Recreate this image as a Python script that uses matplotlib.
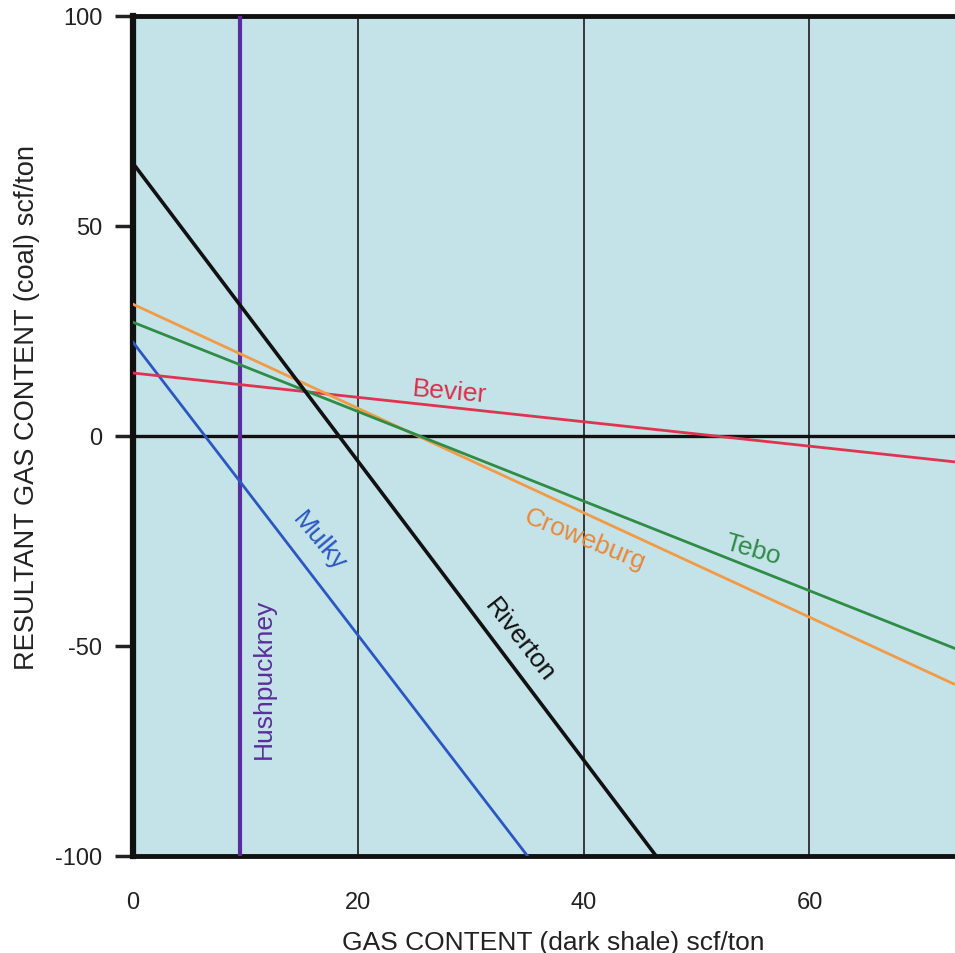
import matplotlib
matplotlib.use("Agg")
from matplotlib import pyplot as plt

plt.rcParams['font.family'] = ['Liberation Sans', 'DejaVu Sans']
plt.rcParams['axes.unicode_minus'] = False

# line end points (x: dark shale gas, y: resultant coal gas)
riverton_x = [0, 46.4]
riverton_y = [65, -100]
mulky_x = [0, 35.0]
mulky_y = [22.4, -100]
bevier_x = [0, 73]
bevier_y = [15.0, -6.2]
croweburg_x = [0, 73]
croweburg_y = [31.4, -59.3]
tebo_x = [0, 73]
tebo_y = [27.1, -50.7]
hushpuckney_x = [9.5, 9.5]
hushpuckney_y = [-100, 100]

x_ticks = [0, 20, 40, 60]
y_ticks = [-100, -50, 0, 50, 100]

fig = plt.figure(figsize=(9.55, 9.54), dpi=100)
ax = fig.add_axes([0.139, 0.1017, 0.861, 0.8805])
ax.set_facecolor('#c3e3e9')

for x in x_ticks[1:]:
    ax.axvline(x, color='#2a2a2a', lw=1.3, zorder=1)
ax.axhline(0, color='#111111', lw=2.4, zorder=1)

ax.plot(hushpuckney_x, hushpuckney_y, color='#5b2d9c', lw=3, zorder=3)
ax.plot(mulky_x, mulky_y, color='#2b57c2', lw=2, zorder=3)
ax.plot(bevier_x, bevier_y, color='#e0334f', lw=2, zorder=3)
ax.plot(croweburg_x, croweburg_y, color='#f39a45', lw=2, zorder=3)
ax.plot(tebo_x, tebo_y, color='#2f8c45', lw=2, zorder=3)
ax.plot(riverton_x, riverton_y, color='#111111', lw=2.6, zorder=4)

fs = 19
ax.text(28.1, 10.6, 'Bevier', color='#d8304a', fontsize=fs, rotation=-5, ha='center', va='center')
ax.text(16.5, -25.0, 'Mulky', color='#2b57c2', fontsize=fs, rotation=-50, ha='center', va='center')
ax.text(11.6, -57.5, 'Hushpuckney', color='#5b2d9c', fontsize=fs, rotation=90, ha='center', va='center')
ax.text(34.3, -48.5, 'Riverton', color='#111111', fontsize=fs, rotation=-52, ha='center', va='center')
ax.text(40.1, -24.5, 'Croweburg', color='#e8893a', fontsize=fs, rotation=-22, ha='center', va='center')
ax.text(55.0, -27.0, 'Tebo', color='#2f8c45', fontsize=fs, rotation=-16, ha='center', va='center')

ax.set_xlim(0, 72.9)
ax.set_ylim(-100, 100)
ax.set_xticks(x_ticks)
ax.set_yticks(y_ticks)
ax.tick_params(axis='x', length=0, pad=25, labelsize=17, colors='#222222')
ax.tick_params(axis='y', length=13, width=2.5, pad=9, labelsize=17, colors='#222222')

ax.spines['right'].set_visible(False)
ax.spines['left'].set_linewidth(4.5)
ax.spines['top'].set_linewidth(3.5)
ax.spines['bottom'].set_linewidth(3.5)
for s in ['left', 'top', 'bottom']:
    ax.spines[s].set_color('#111111')

ax.set_xlabel('GAS CONTENT (dark shale) scf/ton', fontsize=19, color='#222222', va='center')
ax.set_ylabel('RESULTANT GAS CONTENT (coal) scf/ton', fontsize=19.6, color='#222222', va='center')
ax.xaxis.set_label_coords(0.512, -0.1024)
ax.yaxis.set_label_coords(-0.128, 0.5345)

fig.savefig('out.png', dpi=100)
